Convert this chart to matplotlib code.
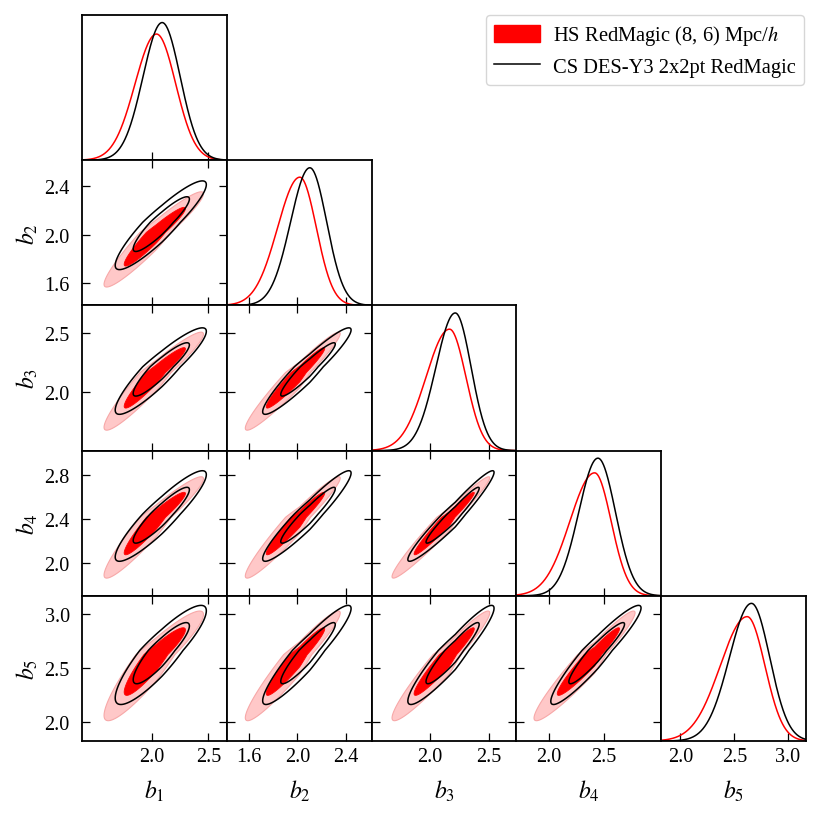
import numpy as np
import matplotlib
matplotlib.use('Agg')
import matplotlib.pyplot as plt
from matplotlib.patches import Patch
from matplotlib.lines import Line2D

plt.rcParams['font.family'] = ['Liberation Serif', 'DejaVu Serif']
plt.rcParams['mathtext.fontset'] = 'stix'

# ---------------- data ----------------
param_labels = [r'$b_1$', r'$b_2$', r'$b_3$', r'$b_4$', r'$b_5$']
axis_lo = [1.382, 1.415, 1.502, 1.705, 1.820]
axis_hi = [2.665, 2.617, 2.735, 3.020, 3.165]
xticks_vals = [[2.0, 2.5], [1.6, 2.0, 2.4], [2.0, 2.5], [2.0, 2.5], [2.0, 2.5, 3.0]]
yticks_vals = [[], [1.6, 2.0, 2.4], [2.0, 2.5], [2.0, 2.4, 2.8], [2.0, 2.5, 3.0]]

# HS RedMagic (8, 6) Mpc/h  (filled red)
hs_mode = [2.040, 2.020, 2.165, 2.416, 2.620]
hs_sig_lo = [0.190, 0.185, 0.200, 0.225, 0.250]
hs_sig_hi = [0.170, 0.137, 0.140, 0.150, 0.165]
hs_corr = [[1.000, 0.950, 0.950, 0.950, 0.920],
           [0.950, 1.000, 0.965, 0.965, 0.955],
           [0.950, 0.965, 1.000, 0.975, 0.958],
           [0.950, 0.965, 0.975, 1.000, 0.960],
           [0.920, 0.955, 0.958, 0.960, 1.000]]

# CS DES-Y3 2x2pt RedMagic (black lines)
cs_mode = [2.090, 2.103, 2.214, 2.446, 2.660]
cs_sig_lo = [0.170, 0.160, 0.165, 0.175, 0.205]
cs_sig_hi = [0.160, 0.140, 0.135, 0.160, 0.170]
cs_corr = [[1.000, 0.910, 0.910, 0.910, 0.880],
           [0.910, 1.000, 0.945, 0.945, 0.930],
           [0.910, 0.945, 1.000, 0.962, 0.935],
           [0.910, 0.945, 0.962, 1.000, 0.942],
           [0.880, 0.930, 0.935, 0.942, 1.000]]

contour_probs = [0.68, 0.95]
legend_labels = ['HS RedMagic (8, 6) Mpc/$h$', 'CS DES-Y3 2x2pt RedMagic']

# ---------------- helpers ----------------
chains = {
    'hs': (hs_mode, hs_sig_lo, hs_sig_hi, hs_corr),
    'cs': (cs_mode, cs_sig_lo, cs_sig_hi, cs_corr),
}


def zscore(x, mode, slo, shi):
    return np.where(x < mode, (x - mode) / slo, (x - mode) / shi)


def pdf1d(x, chain, i):
    m, lo, hi, _ = chains[chain]
    z = zscore(x, m[i], lo[i], hi[i])
    return 2.0 / (np.sqrt(2 * np.pi) * (lo[i] + hi[i])) * np.exp(-0.5 * z ** 2)


def q2d(X, Y, chain, i, j):
    # X -> parameter j, Y -> parameter i
    m, lo, hi, c = chains[chain]
    zx = zscore(X, m[j], lo[j], hi[j])
    zy = zscore(Y, m[i], lo[i], hi[i])
    r = c[i][j]
    return (zx ** 2 - 2 * r * zx * zy + zy ** 2) / (1 - r ** 2)


levels = [-2 * np.log(1 - p) for p in contour_probs]

# ---------------- layout ----------------
W, H = 822, 820
fig = plt.figure(figsize=(W / 100, H / 100), dpi=100)
left_px, top_px = 82.3, 16.0
pw, ph = 144.7, 145.2
n = 5

tick_fs = 14.5
lab_fs = 17
red = '#FF0000'
pink = '#FFC8C8'
pink_edge = '#F7A8A8'

for i in range(n):
    for j in range(i + 1):
        l = (left_px + j * pw) / W
        b = 1 - (top_px + (i + 1) * ph) / H
        ax = fig.add_axes([l, b, pw / W, ph / H])
        for s in ax.spines.values():
            s.set_linewidth(1.3)
        ax.set_xlim(axis_lo[j], axis_hi[j])
        if i == j:
            x = np.linspace(axis_lo[i], axis_hi[i], 600)
            yh = pdf1d(x, 'hs', i)
            yc = pdf1d(x, 'cs', i)
            ax.plot(x, yh, color=red, lw=1.1)
            ax.plot(x, yc, color='k', lw=1.1)
            ax.set_ylim(0, 1.055 * max(yh.max(), yc.max()))
            ax.set_yticks([])
            ax.set_xticks(xticks_vals[i])
            ax.tick_params(axis='x', direction='in', length=6, width=0.9,
                           labelsize=tick_fs, pad=4, top=False,
                           labelbottom=(i == n - 1))
        else:
            xs = np.linspace(axis_lo[j], axis_hi[j], 500)
            ys = np.linspace(axis_lo[i], axis_hi[i], 500)
            X, Y = np.meshgrid(xs, ys)
            qh = q2d(X, Y, 'hs', i, j)
            qc = q2d(X, Y, 'cs', i, j)
            ax.contourf(X, Y, qh, levels=[levels[0], levels[1]], colors=[pink],
                        antialiased=True)
            ax.contour(X, Y, qh, levels=[levels[1]], colors=[pink_edge], linewidths=0.8)
            ax.contourf(X, Y, qh, levels=[-1, levels[0]], colors=[red],
                        antialiased=True)
            ax.contour(X, Y, qh, levels=[levels[0]], colors=[red], linewidths=0.6)
            ax.contour(X, Y, qc, levels=levels, colors='k', linewidths=1.1)
            ax.set_ylim(axis_lo[i], axis_hi[i])
            ax.set_xticks(xticks_vals[j])
            ax.set_yticks(yticks_vals[i])
            ax.tick_params(axis='both', direction='in', length=6, width=0.9,
                           top=True, right=True, labelsize=tick_fs)
            ax.tick_params(axis='x', pad=4, labelbottom=(i == n - 1))
            ax.tick_params(axis='y', pad=9, labelleft=(j == 0))
        if i == n - 1:
            ax.set_xlabel(param_labels[j], fontsize=lab_fs, labelpad=9)
        if j == 0 and i > 0:
            ax.set_ylabel(param_labels[i], fontsize=lab_fs, labelpad=3)

handles = [Patch(facecolor=red, edgecolor=red),
           Line2D([0], [0], color='k', lw=1.1)]
leg = fig.legend(handles, legend_labels, loc='upper right',
                 bbox_to_anchor=(804 / W, 1 - 16 / H), borderaxespad=0,
                 fontsize=14.8, frameon=True, fancybox=True, labelspacing=0.45,
                 handlelength=2.2, handleheight=0.9, handletextpad=0.65,
                 borderpad=0.4)
leg.get_frame().set_edgecolor('#cccccc')
leg.get_frame().set_linewidth(1.0)

fig.savefig('out.png', dpi=100)
